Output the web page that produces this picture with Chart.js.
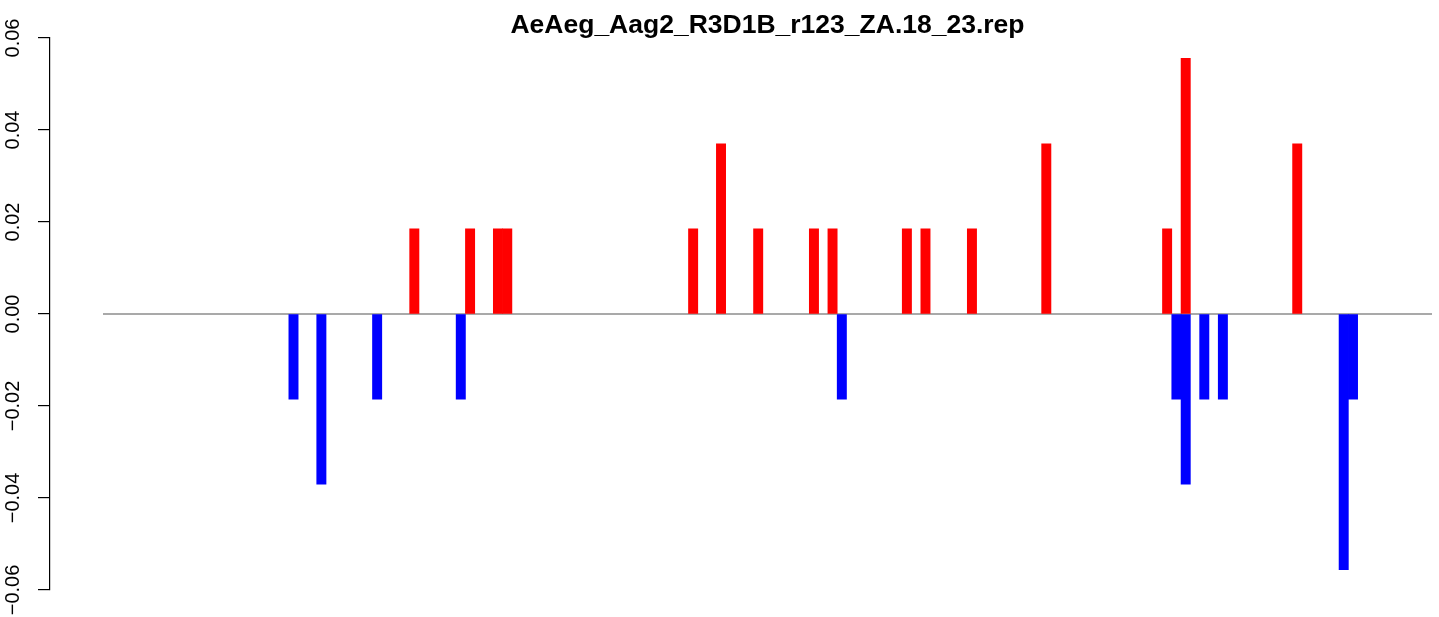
<!DOCTYPE html>
<html>
<head>
<meta charset="utf-8">
<script src="https://cdn.jsdelivr.net/npm/chart.js@4.4.1/dist/chart.umd.min.js"></script>
<style>
    html, body { margin: 0; padding: 0; background: #fff; }
    #wrap { width: 1439px; height: 617px; }
</style>
</head>
<body>
<div id="wrap"><canvas id="chart" width="1439" height="617"></canvas></div>
<script>
const titleText = 'AeAeg_Aag2_R3D1B_r123_ZA.18_23.rep';

// bin number of each bar (bin 0 = left end of the zero line) and its height
const redBins = [33, 39, 42, 43, 63, 66, 70, 76, 78, 86, 88, 93, 101, 114, 116, 128];
const redValues = [0.0185, 0.0185, 0.0185, 0.0185, 0.0185, 0.037, 0.0185, 0.0185,
                   0.0185, 0.0185, 0.0185, 0.0185, 0.037, 0.0185, 0.0556, 0.037];
const blueBins = [20, 23, 29, 38, 79, 115, 116, 118, 120, 133, 134];
const blueValues = [-0.0185, -0.037, -0.0185, -0.0185, -0.0185, -0.0185, -0.037,
                    -0.0185, -0.0185, -0.0556, -0.0185];

const binRange = [0, 143];
const yTicks = [-0.06, -0.04, -0.02, 0, 0.02, 0.04, 0.06];

const fontFamily = '"Liberation Sans", Arial, Helvetica, sans-serif';

// title sits over the middle of the zero line, like R's main=
const titlePlugin = {
    id: 'rTitle',
    afterDraw(chart) {
        const ctx = chart.ctx;
        const cx = chart.scales.x.getPixelForValue((binRange[0] + binRange[1]) / 2);
        ctx.save();
        ctx.font = 'bold 26.5px ' + fontFamily;
        ctx.fillStyle = '#000';
        ctx.textAlign = 'center';
        ctx.textBaseline = 'alphabetic';
        ctx.fillText(titleText, cx, 33);
        ctx.restore();
    }
};

function toPoints(bins, values) {
    let points = [];
    for (let i = 0; i < bins.length; i++) {
        points.push({x: bins[i] + 0.5, y: values[i]});
    }
    return points;
}

function drawChart() {
    const barStyle = {
        type: 'bar',
        borderWidth: 0,
        grouped: false,
        barPercentage: 1,
        categoryPercentage: 1
    };

    new Chart(document.getElementById('chart'), {
        type: 'bar',
        data: {
            datasets: [
                Object.assign({}, barStyle, {
                    data: toPoints(redBins, redValues),
                    backgroundColor: '#ff0000'
                }),
                Object.assign({}, barStyle, {
                    data: toPoints(blueBins, blueValues),
                    backgroundColor: '#0000ff'
                }),
                {
                    type: 'line',
                    data: binRange.map(b => ({x: b, y: 0})),
                    borderColor: '#8c8c8c',
                    borderWidth: 1.5,
                    pointRadius: 0
                }
            ]
        },
        options: {
            responsive: false,
            animation: false,
            devicePixelRatio: 1,
            events: [],
            layout: {
                padding: {left: 0, right: 7, top: 38, bottom: 27}
            },
            plugins: {
                legend: {display: false},
                tooltip: {enabled: false},
                title: {display: false}
            },
            scales: {
                x: {
                    type: 'linear',
                    display: false,
                    offset: false,
                    min: -5.7,
                    max: 143,
                    grid: {display: false, offset: false}
                },
                y: {
                    min: -0.06,
                    max: 0.06,
                    afterFit(scale) { scale.width = 50; },
                    afterBuildTicks(scale) {
                        scale.ticks = yTicks.map(v => ({value: v}));
                    },
                    grid: {
                        display: true,
                        drawOnChartArea: false,
                        drawTicks: true,
                        tickLength: 12,
                        color: '#000',
                        lineWidth: 1.2
                    },
                    border: {display: true, color: '#000', width: 1.2},
                    ticks: {
                        minRotation: 90,
                        maxRotation: 90,
                        crossAlign: 'center',
                        padding: -0.5,
                        color: '#000',
                        font: {family: fontFamily, size: 20},
                        callback: v => v.toFixed(2).replace('-', '\u2212')
                    }
                }
            }
        },
        plugins: [titlePlugin]
    });
}

drawChart();
</script>
</body>
</html>
